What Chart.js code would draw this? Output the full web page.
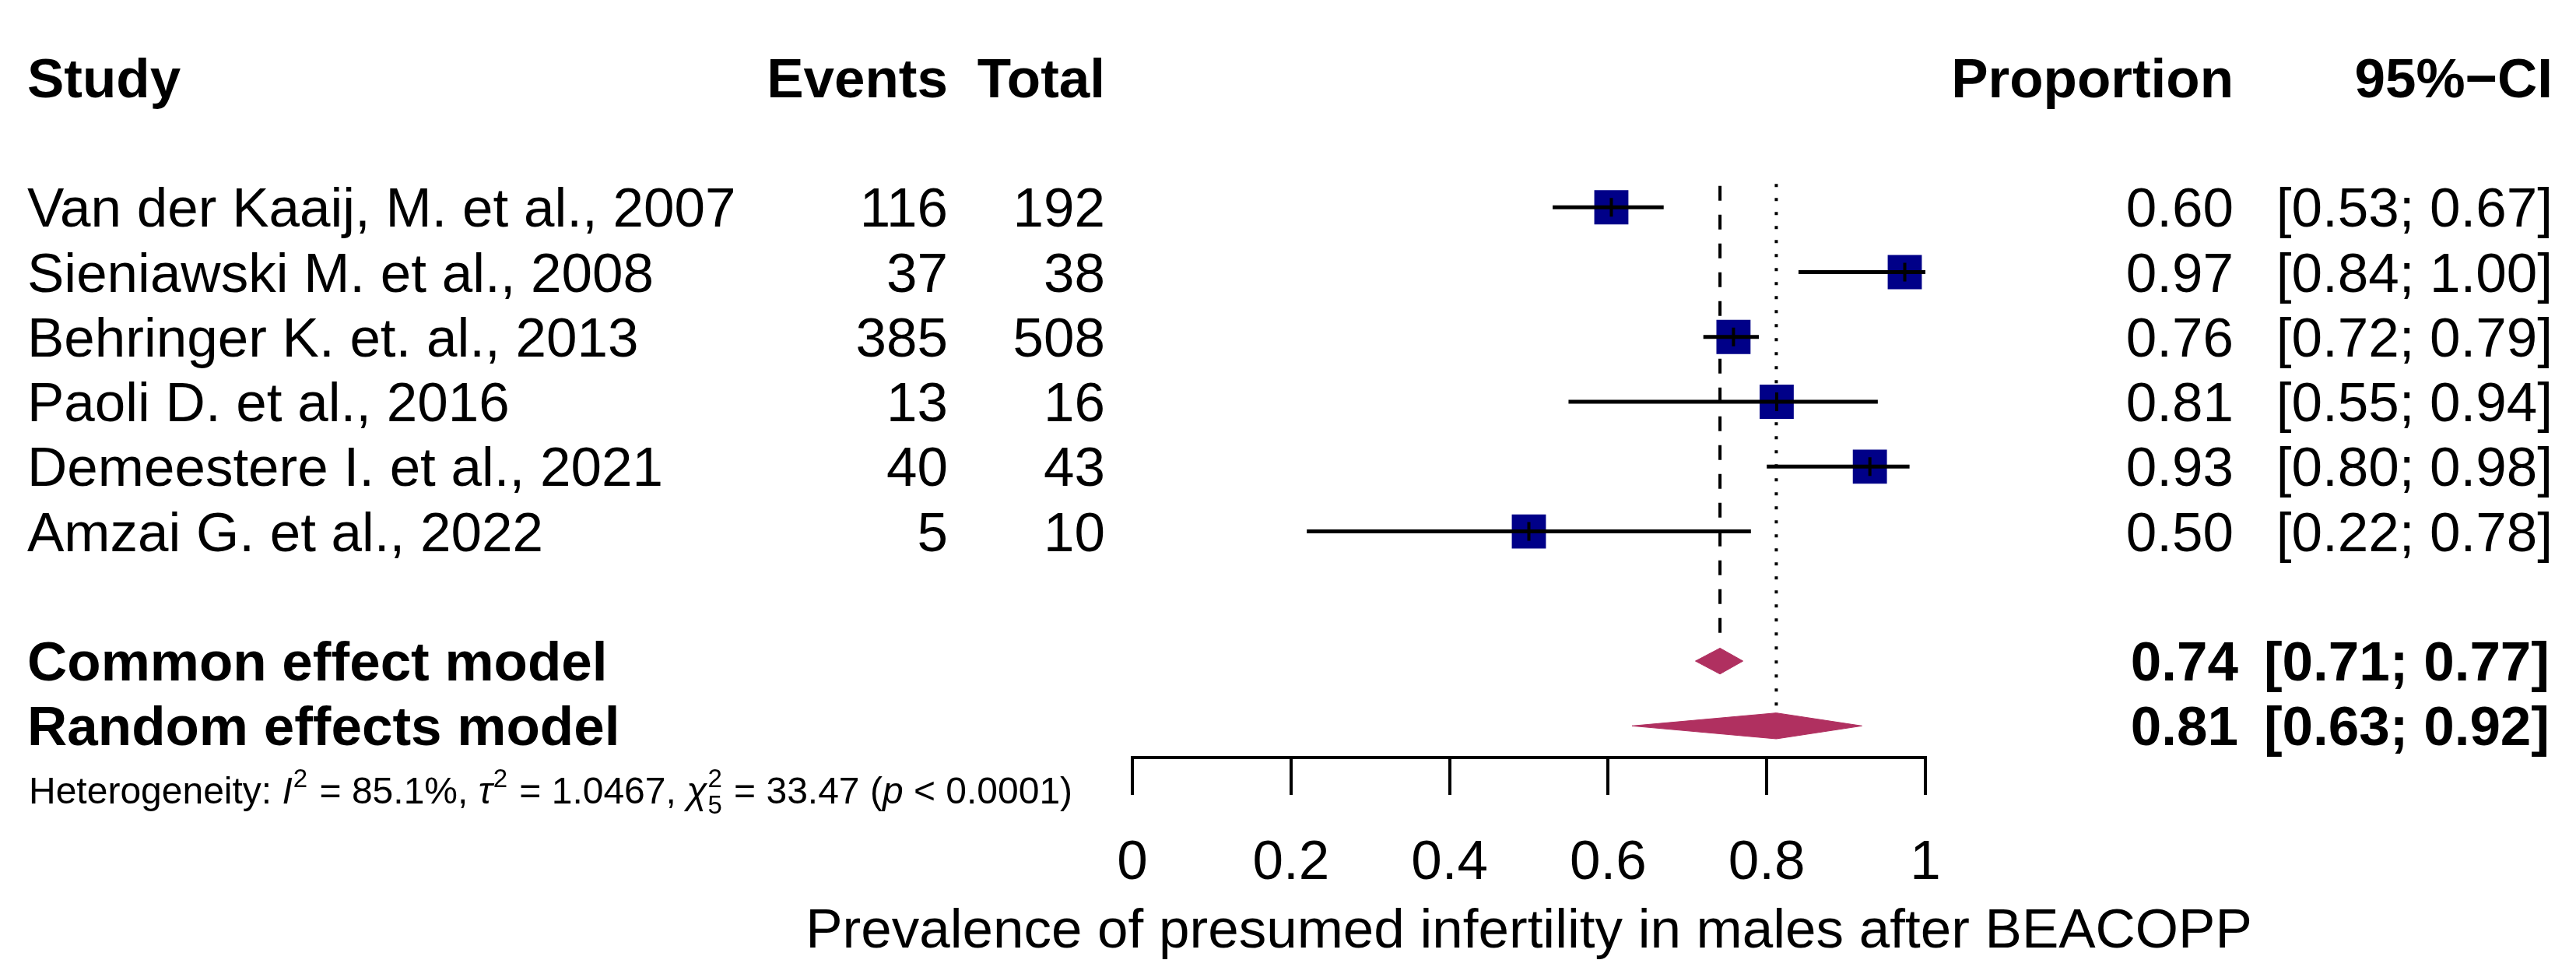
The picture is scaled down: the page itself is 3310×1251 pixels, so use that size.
<!DOCTYPE html>
<html>
<head>
<meta charset="utf-8">
<script src="https://cdn.jsdelivr.net/npm/chart.js@4.4.1/dist/chart.umd.min.js"></script>
<style>
  html, body { margin: 0; padding: 0; background: #fff; }
  #wrap { width: 3310px; height: 1251px; }
</style>
</head>
<body>
<div id="wrap"><canvas id="forest" width="3310" height="1251"></canvas></div>
<script>
// study data
const studies = [
    'Van der Kaaij, M. et al., 2007',
    'Sieniawski M. et al., 2008',
    'Behringer K. et. al., 2013',
    'Paoli D. et al., 2016',
    'Demeestere I. et al., 2021',
    'Amzai G. et al., 2022'
];
const events = [116, 37, 385, 13, 40, 5];
const totals = [192, 38, 508, 16, 43, 10];
const proportions = [0.604, 0.974, 0.758, 0.8125, 0.930, 0.500];
const lower = [0.53, 0.84, 0.72, 0.55, 0.80, 0.22];
const upper = [0.67, 1.00, 0.79, 0.94, 0.98, 0.78];
const propLabels = ['0.60', '0.97', '0.76', '0.81', '0.93', '0.50'];
const ciLabels = ['[0.53; 0.67]', '[0.84; 1.00]', '[0.72; 0.79]', '[0.55; 0.94]', '[0.80; 0.98]', '[0.22; 0.78]'];

// pooled estimates
const models = ['Common effect model', 'Random effects model'];
const modelEst = [0.741, 0.812];
const modelLower = [0.71, 0.63];
const modelUpper = [0.77, 0.92];
const modelPropLabels = ['0.74', '0.81'];
const modelCiLabels = ['[0.71; 0.77]', '[0.63; 0.92]'];

// axis
const xTicks = [0, 0.2, 0.4, 0.6, 0.8, 1];
const xTickLabels = ['0', '0.2', '0.4', '0.6', '0.8', '1'];
const xTitle = 'Prevalence of presumed infertility in males after BEACOPP';

const FONT = '"Liberation Sans", Arial, Helvetica, sans-serif';
const SQUARE_COL = '#000088';
const DIAMOND_COL = '#B03060';
const modelRows = [7, 8];
const DIAMOND_H = 0.2;

const datasets = [];

// reference lines (common = dashed, random = dotted)
datasets.push({
    type: 'line',
    data: [{ x: modelEst[0], y: -0.33 }, { x: modelEst[0], y: 6.63 }],
    borderColor: '#000', borderWidth: 4, borderDash: [19, 18],
    pointRadius: 0, order: 6
});
datasets.push({
    type: 'line',
    data: [{ x: modelEst[1], y: -0.36 }, { x: modelEst[1], y: modelRows[1] - DIAMOND_H }],
    borderColor: '#000', borderWidth: 4, borderDash: [4, 14],
    pointRadius: 0, order: 6
});

// diamonds
modelRows.forEach((r, k) => {
    datasets.push({
        type: 'line',
        data: [
            { x: modelLower[k], y: r },
            { x: modelEst[k], y: r - DIAMOND_H },
            { x: modelUpper[k], y: r },
            { x: modelEst[k], y: r + DIAMOND_H },
            { x: modelLower[k], y: r }
        ],
        borderColor: DIAMOND_COL, backgroundColor: DIAMOND_COL,
        borderWidth: 1, fill: 'shape', tension: 0,
        pointRadius: 0, order: 5
    });
});

// squares
datasets.push({
    type: 'scatter',
    data: proportions.map((p, i) => ({ x: p, y: i })),
    pointStyle: 'rect', pointRadius: 31,
    pointBackgroundColor: SQUARE_COL, pointBorderWidth: 0,
    order: 3
});

// confidence intervals, drawn over the squares
lower.forEach((lo, i) => {
    datasets.push({
        type: 'line',
        data: [{ x: lo, y: i }, { x: upper[i], y: i }],
        borderColor: '#000', borderWidth: 5,
        pointRadius: 0, order: 2
    });
});

// small vertical tick at the estimate
datasets.push({
    type: 'scatter',
    data: proportions.map((p, i) => ({ x: p, y: i })),
    pointStyle: 'line', pointRotation: 90, pointRadius: 12,
    pointBorderColor: '#000', pointBorderWidth: 4,
    order: 1
});

function text(ctx, str, x, y, align, bold) {
    ctx.font = (bold ? 'bold ' : '') + '71px ' + FONT;
    ctx.textAlign = align;
    ctx.fillText(str, x, y);
}

const tablePlugin = {
    id: 'forestTable',
    afterDraw(chart) {
        const ctx = chart.ctx;
        const xS = chart.scales.x;
        const yS = chart.scales.y;
        const rowY = r => yS.getPixelForValue(r) + 25;
        ctx.save();
        ctx.fillStyle = '#000';
        ctx.textBaseline = 'alphabetic';

        // header
        let y = rowY(-2);
        text(ctx, 'Study', 35, y, 'left', true);
        text(ctx, 'Events', 1218, y, 'right', true);
        text(ctx, 'Total', 1420, y, 'right', true);
        text(ctx, 'Proportion', 2870, y, 'right', true);
        text(ctx, '95%\u2212CI', 3280, y, 'right', true);

        studies.forEach((s, i) => {
            const yy = rowY(i);
            text(ctx, s, 35, yy, 'left', false);
            text(ctx, String(events[i]), 1218, yy, 'right', false);
            text(ctx, String(totals[i]), 1420, yy, 'right', false);
            text(ctx, propLabels[i], 2870, yy, 'right', false);
            text(ctx, ciLabels[i], 3280, yy, 'right', false);
        });

        models.forEach((m, k) => {
            const yy = rowY(modelRows[k]);
            text(ctx, m, 35, yy, 'left', true);
            text(ctx, modelPropLabels[k], 2876, yy, 'right', true);
            text(ctx, modelCiLabels[k], 3276, yy, 'right', true);
        });

        // axis title (drawn here so it is not squeezed to the axis width)
        text(ctx, xTitle, (xS.left + xS.right) / 2, xS.top + 244, 'center', false);

        // heterogeneity line
        const fs = 48, ss = 33;
        const hy = rowY(8.9);
        let hx = 37;
        const parts = [
            ['Heterogeneity: ', ''], ['I', 'i'], ['2', 'sup'], [' = 85.1%, ', ''],
            ['\u03c4', 'i'], ['2', 'sup'], [' = 1.0467, ', ''],
            ['\u03c7', 'i'], ['2', 'supsub'], [' = 33.47 (', ''], ['p', 'i'], [' < 0.0001)', '']
        ];
        ctx.textAlign = 'left';
        parts.forEach(([t, kind]) => {
            if (kind === 'sup' || kind === 'supsub') {
                ctx.font = ss + 'px ' + FONT;
                ctx.fillText(t, hx + 1, hy - 21);
                let w = ctx.measureText(t).width;
                if (kind === 'supsub') {
                    ctx.fillText('5', hx + 1, hy + 13);
                    w = Math.max(w, ctx.measureText('5').width);
                }
                hx += w + 3;
            } else {
                ctx.font = (kind === 'i' ? 'italic ' : '') + fs + 'px ' + FONT;
                ctx.fillText(t, hx, hy);
                hx += ctx.measureText(t).width;
            }
        });
        ctx.restore();
    }
};

new Chart(document.getElementById('forest'), {
    type: 'scatter',
    data: { datasets: datasets },
    options: {
        responsive: false,
        devicePixelRatio: 1,
        animation: false,
        layout: { padding: { left: 1455, right: 836, top: 0, bottom: 54 } },
        plugins: { legend: { display: false }, tooltip: { enabled: false } },
        scales: {
            x: {
                type: 'linear', min: 0, max: 1, position: 'bottom',
                afterBuildTicks: s => { s.ticks = xTicks.map(v => ({ value: v })); },
                ticks: {
                    callback: (v, i) => xTickLabels[i],
                    color: '#000', autoSkip: false, maxRotation: 0,
                    padding: 45.4,
                    font: { family: FONT, size: 71, lineHeight: 1.2 }
                },
                grid: {
                    drawOnChartArea: false, drawTicks: true,
                    tickLength: 48, tickWidth: 4, tickColor: '#000',
                    color: '#000', lineWidth: 4
                },
                border: { display: true, color: '#000', width: 4 },
                title: { display: false }
            },
            y: {
                type: 'linear', reverse: true,
                min: -2.8256, max: 8.4884,
                display: false
            }
        }
    },
    plugins: [tablePlugin]
});
</script>
</body>
</html>
